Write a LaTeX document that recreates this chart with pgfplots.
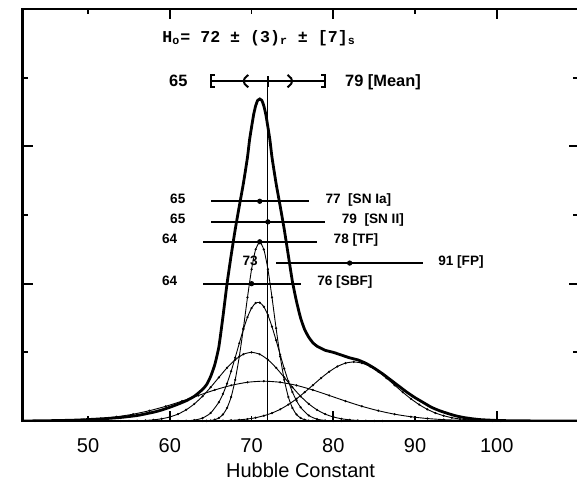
\documentclass[border=0pt]{standalone}
\usepackage{fontspec}
\setmainfont{Liberation Sans}
\newfontfamily\titlefont{Liberation Mono}
\usepackage{pgfplots}
\usepackage{pgfplotstable}
\pgfplotsset{compat=1.18}

% combined likelihood (heavy curve)
\pgfplotstableread{
x y
42 0.0
45 0.004
48 0.011
50 0.021
52 0.034
54 0.052
56 0.08
58 0.128
59 0.16
60 0.2
61 0.245
62 0.295
63 0.36
64 0.46
64.5 0.53
65 0.65
65.5 0.82
66 1.08
66.5 1.52
67 2.0
67.5 2.41
68 2.79
68.5 3.13
69 3.46
69.5 3.84
69.75 4.09
70 4.28
70.25 4.46
70.5 4.59
70.75 4.67
71 4.69
71.25 4.67
71.5 4.59
71.75 4.46
72 4.28
72.25 4.09
72.5 3.84
73 3.46
73.5 3.13
74 2.79
74.5 2.41
75 2.03
75.5 1.74
76 1.5
76.5 1.33
77 1.22
77.5 1.14
78 1.09
79 1.03
80 1.0
81 0.96
82 0.92
83 0.89
84 0.84
85 0.77
86 0.69
87 0.6
88 0.51
89 0.42
90 0.34
91 0.27
92 0.2
93 0.15
94 0.11
95 0.075
96 0.05
97 0.033
98 0.02
100 0.008
103 0.002
110 0.0
}\combined

% individual distributions
\pgfplotstableread{
x y
64 0.001
64.5 0.003
65 0.007
65.5 0.019
66 0.044
66.5 0.095
67 0.19
67.5 0.35
68 0.60
68.5 0.94
69 1.35
69.5 1.80
70 2.21
70.5 2.50
71 2.60
71.5 2.50
72 2.21
72.5 1.80
73 1.35
73.5 0.94
74 0.60
74.5 0.35
75 0.19
75.5 0.095
76 0.044
76.5 0.019
77 0.007
77.5 0.003
78 0.001
}\compA

\pgfplotstableread{
x y
61 0.001
62 0.004
63 0.013
64 0.043
65 0.117
66 0.274
66.5 0.394
67 0.545
67.5 0.724
68 0.924
68.5 1.133
69 1.335
69.5 1.512
70 1.644
70.5 1.718
71 1.724
71.5 1.664
72 1.542
72.5 1.373
73 1.175
73.5 0.966
74 0.763
74.5 0.579
75 0.422
75.5 0.296
76 0.199
77 0.080
78 0.027
79 0.008
80 0.002
81 0.0
}\compB

\pgfplotstableread{
x y
54 0.0007
55 0.0017
56 0.0039
57 0.0083
58 0.0169
59 0.0324
60 0.0588
61 0.1007
62 0.163
63 0.249
64 0.360
65 0.492
66 0.635
67 0.775
68 0.893
69 0.972
70 1.0
71 0.972
72 0.893
73 0.775
74 0.635
75 0.492
76 0.360
77 0.249
78 0.163
79 0.1007
80 0.0588
81 0.0324
82 0.0169
83 0.0083
84 0.0039
85 0.0017
86 0.0007
}\compC

\pgfplotstableread{
x y
43.5 0.0026
45.5 0.0054
47.5 0.011
49.5 0.020
51.5 0.036
53.5 0.062
55.5 0.099
57.5 0.150
59.5 0.214
61.5 0.290
63.5 0.372
65.5 0.452
67.5 0.519
69.5 0.564
71.5 0.58
73.5 0.564
75.5 0.519
77.5 0.452
79.5 0.372
81.5 0.290
83.5 0.214
85.5 0.150
87.5 0.099
89.5 0.062
91.5 0.036
93.5 0.020
95.5 0.011
97.5 0.0054
99.5 0.0026
}\compD

\pgfplotstableread{
x y
64.5 0.0013
66.5 0.005
67.5 0.0095
68.5 0.017
69.5 0.029
70.5 0.048
71.5 0.077
72.5 0.116
73.5 0.170
74.5 0.239
75.5 0.323
76.5 0.419
77.5 0.522
78.5 0.625
79.5 0.718
80.5 0.794
81.5 0.843
82.5 0.86
83.5 0.843
84.5 0.794
85.5 0.718
86.5 0.625
87.5 0.522
88.5 0.419
89.5 0.323
90.5 0.239
91.5 0.170
92.5 0.116
93.5 0.077
94.5 0.048
95.5 0.029
96.5 0.017
97.5 0.0095
98.5 0.005
100.5 0.0013
}\compE

% individual determinations: height, central value, lower and upper bound
\pgfplotstableread{
y    c   lo  hi
3.20 71  65  77
2.90 72  65  79
2.61 71  64  78
2.30 82  73  91
2.00 70  64  76
}\methods

\begin{document}
\begin{tikzpicture}
\useasboundingbox (-11.35pt,-33pt) rectangle (277.15pt,210.5pt);
\clip (-11.35pt,-33pt) rectangle (277.15pt,210.5pt);
\begin{axis}[
  at={(0,0)}, anchor=south west,
  scale only axis, width=277.9pt, height=206pt,
  xmin=42, xmax=110, ymin=0, ymax=6,
  axis line style={line width=1.3pt},
  tick style={line width=0.9pt, black},
  tick align=inside,
  major tick length=2.6pt,
  xtick={50,60,...,100},
  ytick={1,2,3,4,5}, yticklabels={},
  extra x ticks={60,80,100}, extra x tick labels={},
  extra x tick style={major tick length=5pt},
  extra y ticks={2,4}, extra y tick labels={},
  extra y tick style={major tick length=5pt},
  /pgf/number format/assume math mode=true,
  xticklabel style={font=\fontsize{10}{12}\selectfont, yshift=-5.4pt},
  xlabel={Hubble Constant},
  xlabel style={font=\fontsize{10}{12}\selectfont, at={(axis description cs:0.5,0)}, anchor=center, yshift=-24.5pt},
  comp/.style={black, line width=0.45pt, mark=*, mark size=0.3pt, smooth, tension=0.4},
  clip=true,
]
% individual distributions
\addplot[comp] table {\compD};
\addplot[comp] table {\compC};
\addplot[comp] table {\compE};
\addplot[comp] table {\compB};
\addplot[comp] table {\compA};
% combined
\addplot[black, line width=1.4pt, smooth, tension=0.3] table {\combined};
% adopted value
\addplot[black, line width=0.5pt] coordinates {(72,0) (72,4.95)};

% mean with random and systematic ranges
\addplot[black, line width=0.75pt] coordinates {(65,4.95) (79,4.95)};
\addplot[black, line width=1pt] coordinates {(65.5,5.04) (65,5.04) (65,4.86) (65.5,4.86)};
\addplot[black, line width=1pt] coordinates {(78.5,5.04) (79,5.04) (79,4.86) (78.5,4.86)};
\addplot[black, line width=1pt, smooth] coordinates {(69.6,5.04) (69.15,4.99) (69.05,4.95) (69.15,4.91) (69.6,4.86)};
\addplot[black, line width=1pt, smooth] coordinates {(74.4,5.04) (74.85,4.99) (74.95,4.95) (74.85,4.91) (74.4,4.86)};
\addplot[black, line width=0.9pt] coordinates {(72,4.87) (72,5.03)};

% individual determinations
\addplot[black, only marks, mark=*, mark size=1.1pt,
  error bars/.cd, x dir=both, x explicit, error mark=none,
  error bar style={line width=1.1pt}]
  table[x=c, y=y, x error plus expr=\thisrow{hi}-\thisrow{c},
        x error minus expr=\thisrow{c}-\thisrow{lo}] {\methods};

% labels
\node[anchor=west, inner sep=0pt, font=\titlefont\bfseries\fontsize{8.3}{10}\selectfont]
  at (axis cs:59.05,5.58) {H\textsubscript{o}= 72 ± (3)\textsubscript{r} ± [7]\textsubscript{s}};
\begin{scope}[every node/.style={inner sep=0pt, font=\bfseries\fontsize{8.2}{9}\selectfont}]
\node[anchor=base east] at (axis cs:62.2,4.865) {65};
\node[anchor=base west] at (axis cs:81.4,4.865) {79 [Mean]};
\end{scope}
\begin{scope}[every node/.style={inner sep=0pt, font=\bfseries\fontsize{6.8}{7.5}\selectfont}]
\node[anchor=base east] at (axis cs:61.95,3.17) {65};
\node[anchor=base west] at (axis cs:79,3.17) {77\ \ [SN Ia]};
\node[anchor=base east] at (axis cs:61.95,2.87) {65};
\node[anchor=base west] at (axis cs:81,2.87) {79\ \ [SN II]};
\node[anchor=base east] at (axis cs:60.95,2.58) {64};
\node[anchor=base west] at (axis cs:80,2.58) {78 [TF]};
\node[anchor=base east] at (axis cs:70.8,2.27) {73};
\node[anchor=base west] at (axis cs:92.8,2.27) {91 [FP]};
\node[anchor=base east] at (axis cs:60.95,1.97) {64};
\node[anchor=base west] at (axis cs:78,1.97) {76 [SBF]};
\end{scope}
\end{axis}
\end{tikzpicture}
\end{document}
